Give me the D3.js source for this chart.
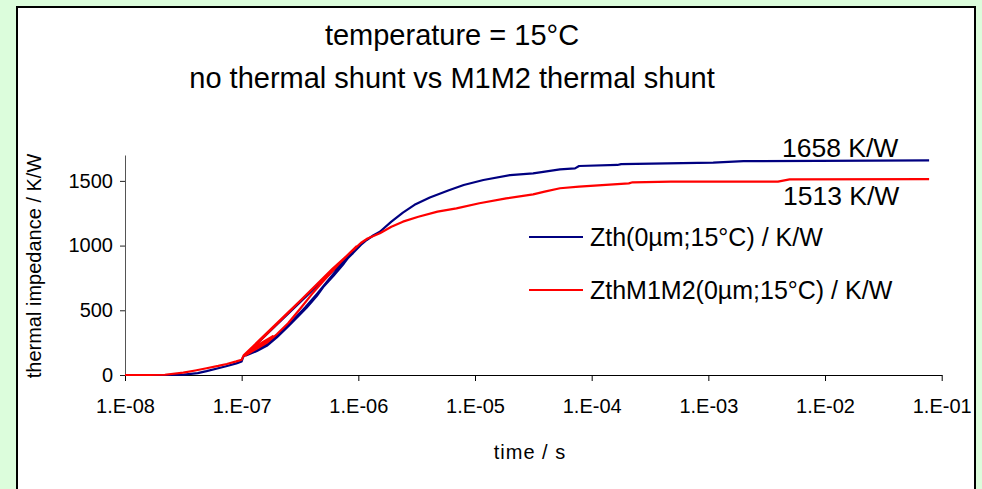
<!DOCTYPE html>
<html>
<head>
<meta charset="utf-8">
<script src="https://cdn.jsdelivr.net/npm/d3@7"></script>
<style>
  html, body { margin: 0; padding: 0; background: #dcfddc; }
  svg { display: block; font-family: "Liberation Sans", Arial, sans-serif; }
</style>
</head>
<body>
<svg id="chart" width="982" height="489"></svg>
<script>
// Thermal impedance step responses, [time in s, Zth in K/W]
const zthNoShunt = [
  [1e-8, 0], [1.5e-8, 0], [2.2e-8, 0], [3.2e-8, 3], [4.2e-8, 15], [5e-8, 30],
  [6.3e-8, 52], [7.5e-8, 70], [9e-8, 90], [1e-7, 105], [1.03e-7, 140],
  [9.0e-7, 955],
  [7.5e-7, 860], [6.1e-7, 765], [5e-7, 680], [4.4e-7, 610], [3.6e-7, 520],
  [3.16e-7, 468], [2.5e-7, 375], [2.0e-7, 290], [1.64e-7, 225], [1.35e-7, 185], [1.1e-7, 152],
  [1.4e-7, 198], [1.75e-7, 258], [2.2e-7, 340], [2.8e-7, 430], [3.5e-7, 522],
  [4.4e-7, 625], [5.5e-7, 730], [7e-7, 845], [9e-7, 942], [1.05e-6, 1005],
  [1.18e-6, 1043], [1.35e-6, 1080], [1.53e-6, 1107], [1.92e-6, 1185], [2.41e-6, 1255],
  [3.03e-6, 1315], [4.1e-6, 1372], [5.97e-6, 1428], [8e-6, 1468], [1.18e-5, 1507],
  [2.0e-5, 1545], [3.15e-5, 1558], [5.35e-5, 1589], [7.2e-5, 1597], [7.8e-5, 1615],
  [1.66e-4, 1623], [1.79e-4, 1630], [4.43e-4, 1636], [1.1e-3, 1641], [2.0e-3, 1652],
  [7.8e-2, 1658]
];

const zthM1M2Shunt = [
  [1e-8, 0], [1.6e-8, 0], [2.2e-8, 2], [3.16e-8, 18], [4e-8, 35], [5e-8, 52],
  [6.3e-8, 70], [7.45e-8, 85], [9e-8, 105], [1e-7, 118], [1.04e-7, 152],
  [9.6e-7, 992],
  [7e-7, 870], [5e-7, 725], [4e-7, 625], [3.16e-7, 510], [2.5e-7, 400],
  [2e-7, 315], [1.64e-7, 248], [1.4e-7, 212], [1.2e-7, 178], [1.07e-7, 150],
  [1.6e-7, 262], [1.85e-7, 300], [1.5e-7, 252], [1.1e-7, 162],
  [6e-7, 820], [7.5e-7, 900], [9e-7, 965], [1.05e-6, 1020], [1.2e-6, 1055],
  [1.53e-6, 1095], [1.92e-6, 1146], [2.41e-6, 1185], [3.27e-6, 1223], [4.77e-6, 1262],
  [6.93e-6, 1288], [1.09e-5, 1327], [1.85e-5, 1365], [3.15e-5, 1396], [3.95e-5, 1417],
  [5.35e-5, 1443], [7.8e-5, 1455], [2.08e-4, 1481], [2.24e-4, 1489], [4.78e-4, 1494],
  [3.95e-3, 1494], [4.97e-3, 1512], [7.8e-2, 1513]
];

const timeTicks = [1e-8, 1e-7, 1e-6, 1e-5, 1e-4, 1e-3, 1e-2, 1e-1];
const zthTicks = [0, 500, 1000, 1500];
const seriesNames = ["Zth(0µm;15°C) / K/W", "ZthM1M2(0µm;15°C) / K/W"];
const seriesColors = ["#000080", "#ff0000"];
const finalValues = [1658, 1513];
const finalLabels = ["1658 K/W", "1513 K/W"];
const titleLines = ["temperature = 15°C", "no thermal shunt vs M1M2 thermal shunt"];

const svg = d3.select("#chart");

// white chart panel with black frame
svg.append("rect")
  .attr("x", 17).attr("y", 7).attr("width", 958).attr("height", 500)
  .attr("fill", "#fff").attr("stroke", "#000").attr("stroke-width", 2);

const x = d3.scaleLog().domain([1e-8, 1e-1]).range([125, 941.7]);
const y = d3.scaleLinear().domain([0, 1700]).range([375, 155]);

// title
svg.selectAll("text.title").data(titleLines).join("text")
  .attr("class", "title")
  .attr("x", 452).attr("y", (d, i) => 45 + i * 43)
  .attr("text-anchor", "middle")
  .attr("font-size", 29)
  .attr("fill", "#000")
  .text(d => d);

// axes
const fmtExp = d => {
  const e = Math.round(Math.log10(d));
  return "1.E" + (e < 0 ? "-" : "+") + String(Math.abs(e)).padStart(2, "0");
};
const axisFont = "Liberation Sans, Arial, sans-serif";

const yAxis = svg.append("g")
  .attr("transform", "translate(125,0)")
  .call(d3.axisLeft(y).tickValues(zthTicks).tickFormat(d3.format("d"))
    .tickSize(5).tickPadding(7).tickSizeOuter(0));
yAxis.select(".domain").attr("stroke", "#555");
yAxis.selectAll(".tick line").attr("stroke", "#222");
yAxis.selectAll("text").attr("font-size", 20).attr("font-family", axisFont).attr("fill", "#000");

const xAxis = svg.append("g")
  .attr("transform", "translate(0,375)")
  .call(d3.axisBottom(x).tickValues(timeTicks).tickFormat(fmtExp)
    .tickSize(6).tickPadding(18).tickSizeOuter(0));
xAxis.select(".domain").attr("stroke", "#000");
xAxis.selectAll(".tick line").attr("stroke", "#000");
xAxis.selectAll("text").attr("font-size", 20).attr("font-family", axisFont).attr("fill", "#000");

// axis titles
svg.append("text")
  .attr("x", 530).attr("y", 459)
  .attr("text-anchor", "middle")
  .attr("font-size", 20)
  .attr("letter-spacing", 1)
  .text("time / s");

svg.append("text")
  .attr("transform", "translate(41,266) rotate(-90)")
  .attr("text-anchor", "middle")
  .attr("font-size", 20)
  .text("thermal impedance / K/W");

// series
const line = d3.line().x(d => x(d[0])).y(d => y(d[1]));
[zthNoShunt, zthM1M2Shunt].forEach((s, i) => {
  svg.append("path")
    .datum(s)
    .attr("fill", "none")
    .attr("stroke", seriesColors[i])
    .attr("stroke-width", 2.2)
    .attr("stroke-linejoin", "round")
    .attr("d", line);
});

// final value labels
svg.append("text")
  .attr("x", 782).attr("y", y(finalValues[0]) - 3)
  .attr("font-size", 26.5).text(finalLabels[0]);
svg.append("text")
  .attr("x", 783).attr("y", y(finalValues[1]) + 26)
  .attr("font-size", 26.5).text(finalLabels[1]);

// legend
const legend = svg.append("g");
seriesNames.forEach((name, i) => {
  const ly = 237 + i * 53;
  legend.append("line")
    .attr("x1", 529).attr("x2", 583).attr("y1", ly).attr("y2", ly)
    .attr("stroke", seriesColors[i]).attr("stroke-width", 2);
  legend.append("text")
    .attr("x", 590).attr("y", ly + 9)
    .attr("font-size", 25).text(name);
});
</script>
</body>
</html>
